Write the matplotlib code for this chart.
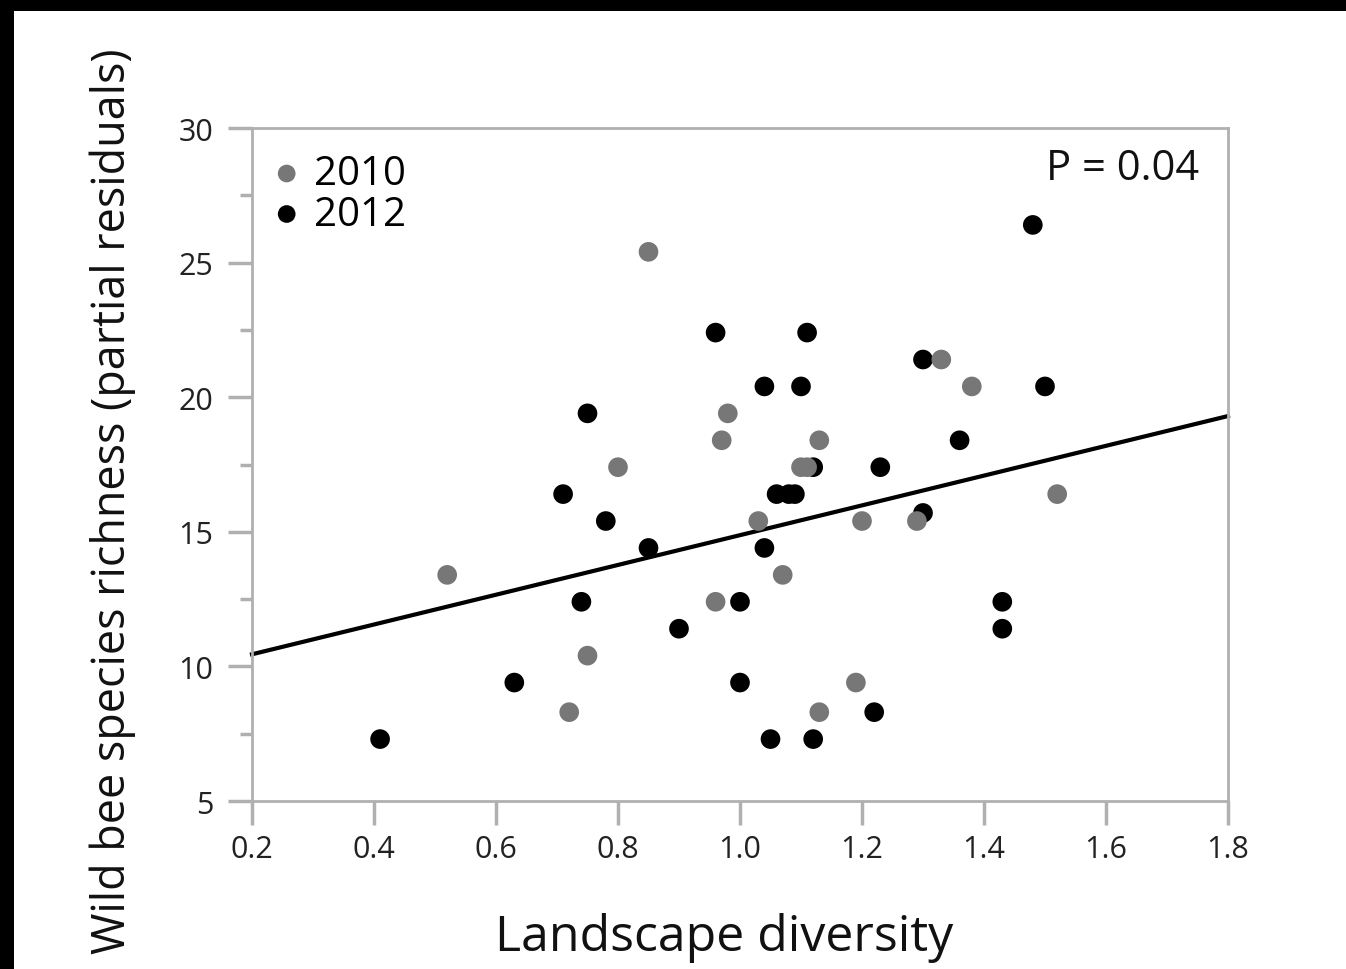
import matplotlib
matplotlib.use("Agg")
import matplotlib.pyplot as plt
from matplotlib.patches import Rectangle

plt.rcParams['font.family'] = ['Open Sans', 'DejaVu Sans']

# 2010 points (landscape diversity, partial residual richness)
x_2010 = [0.52, 0.85, 0.72, 0.75, 0.80, 0.97, 0.98, 0.96, 1.03, 1.07,
          1.10, 1.11, 1.13, 1.13, 1.20, 1.19, 1.29, 1.33, 1.38, 1.52]
y_2010 = [13.4, 25.4, 8.3, 10.4, 17.4, 18.4, 19.4, 12.4, 15.4, 13.4,
          17.4, 17.4, 18.4, 8.3, 15.4, 9.4, 15.4, 21.4, 20.4, 16.4]

# 2012 points
x_2012 = [0.41, 0.63, 0.71, 0.75, 0.74, 0.78, 0.85, 0.90, 0.96, 1.00,
          1.00, 1.04, 1.04, 1.05, 1.11, 1.10, 1.06, 1.08, 1.09, 1.12,
          1.12, 1.23, 1.22, 1.30, 1.30, 1.36, 1.43, 1.43, 1.48, 1.50]
y_2012 = [7.3, 9.4, 16.4, 19.4, 12.4, 15.4, 14.4, 11.4, 22.4, 12.4,
          9.4, 20.4, 14.4, 7.3, 22.4, 20.4, 16.4, 16.4, 16.4, 17.4,
          7.3, 17.4, 8.3, 21.4, 15.7, 18.4, 12.4, 11.4, 26.4, 20.4]

# fitted line end points
fit_x = [0.2, 1.8]
fit_y = [10.45, 19.3]

xticks = [0.2, 0.4, 0.6, 0.8, 1.0, 1.2, 1.4, 1.6, 1.8]
xtick_labels = ['0.2', '0.4', '0.6', '0.8', '1.0', '1.2', '1.4', '1.6', '1.8']
yticks = [5, 10, 15, 20, 25, 30]

fig = plt.figure(figsize=(13.46, 9.70), dpi=100)
ax = fig.add_axes([252 / 1346, 168 / 970, 976 / 1346, 673 / 970])

# black frame edges at top and left of the screenshot
fig.add_artist(Rectangle((0, 1 - 12 / 970), 1, 12 / 970, transform=fig.transFigure,
                         facecolor='black', lw=0, zorder=10))
fig.add_artist(Rectangle((0, 0), 14 / 1346, 1, transform=fig.transFigure,
                         facecolor='black', lw=0, zorder=10))

ax.plot(fit_x, fit_y, color='black', lw=3.0, zorder=2, clip_on=False)
ax.scatter(x_2012, y_2012, s=200, color='black', edgecolors='none', zorder=3, label='2012')
ax.scatter(x_2010, y_2010, s=200, color='#777777', edgecolors='none', zorder=4, label='2010')

ax.set_xlim(0.2, 1.8)
ax.set_ylim(5, 30)
ax.set_xticks(xticks)
ax.set_xticklabels(xtick_labels)
ax.set_yticks(yticks)
ax.set_yticks([7.5, 12.5, 17.5, 22.5, 27.5], minor=True)

for s in ax.spines.values():
    s.set_color('#b0b0b0')
    s.set_linewidth(2)

ax.tick_params(axis='both', which='major', color='#b0b0b0', width=2.5, length=17,
               labelsize=22, labelcolor='#222222')
ax.tick_params(axis='y', which='major', pad=11)
ax.tick_params(axis='x', which='major', pad=7)
ax.tick_params(axis='y', which='minor', color='#b0b0b0', width=2.5, length=9)

ax.set_xlabel('Landscape diversity', fontsize=36, color='#111111', labelpad=34)
ax.xaxis.label.set_x(0.4836)
ax.set_ylabel('Wild bee species richness (partial residuals)', fontsize=32.3,
              color='#111111', labelpad=30)
ax.yaxis.label.set_y(0.447)

handles, labels = ax.get_legend_handles_labels()
ax.legend(handles[::-1], labels[::-1], loc='upper left', bbox_to_anchor=(0.018, 0.962),
          frameon=False, fontsize=29, handlelength=0.85, handletextpad=0.25,
          labelspacing=0.0, borderaxespad=0, borderpad=0, markerscale=0.9)

ax.text(0.97, 0.941, 'P = 0.04', transform=ax.transAxes, ha='right', va='center',
        fontsize=30, color='#111111')

fig.savefig('out.png', dpi=100)
